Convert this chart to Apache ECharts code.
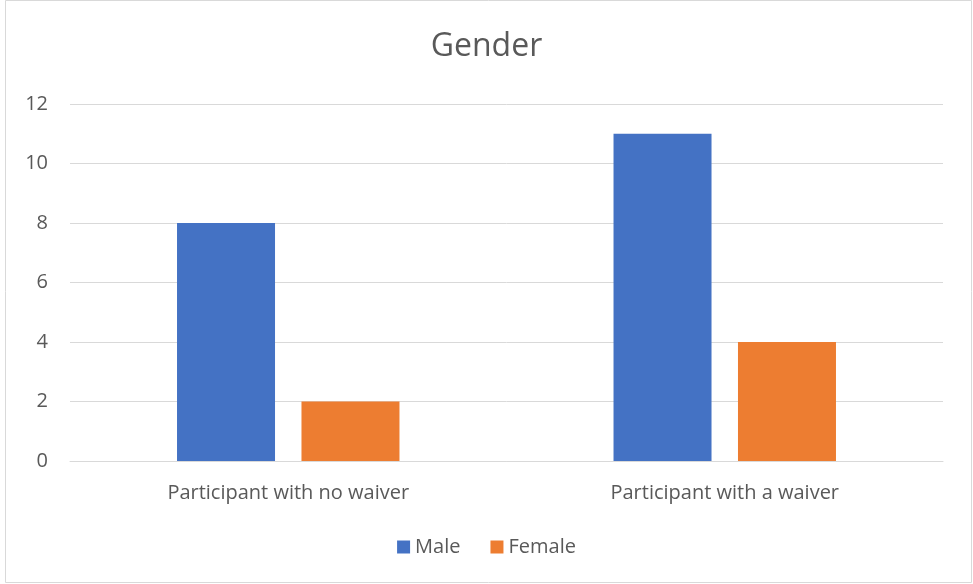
<!DOCTYPE html>
<html>
<head>
<meta charset="utf-8">
<script src="https://cdn.jsdelivr.net/npm/echarts@6/dist/echarts.min.js"></script>
<style>
  html, body { margin: 0; padding: 0; background: #fff; }
  #chart { width: 973px; height: 584px; }
</style>
</head>
<body>
<div id="chart"></div>
<script>
var categories = ['Participant with no waiver', 'Participant with a waiver'];
var maleValues = [8, 11];
var femaleValues = [2, 4];

var myChart = echarts.init(document.getElementById('chart'));
var font = 'Open Sans';

var option = {
    backgroundColor: '#fff',
    animation: false,
    title: {
        text: 'Gender',
        left: 'center',
        top: 26,
        textStyle: { fontFamily: font, fontSize: 32, fontWeight: 'normal', color: '#595959' }
    },
    legend: {
        bottom: 22,
        left: 'center',
        itemWidth: 13,
        itemHeight: 13,
        itemGap: 30,
        icon: 'rect',
        textStyle: { fontFamily: font, fontSize: 20, color: '#595959' },
        data: ['Male', 'Female']
    },
    grid: {
        left: 70,
        right: 30,
        top: 104,
        bottom: 123
    },
    xAxis: {
        type: 'category',
        data: categories,
        axisTick: { show: false },
        axisLine: { lineStyle: { color: '#d9d9d9' } },
        axisLabel: { fontFamily: font, fontSize: 20, color: '#595959', margin: 22 }
    },
    yAxis: {
        type: 'value',
        min: 0,
        max: 12,
        interval: 2,
        axisLabel: { fontFamily: font, fontSize: 20, color: '#595959', margin: 22 },
        splitLine: { lineStyle: { color: '#d9d9d9' } }
    },
    graphic: [{
        type: 'rect',
        shape: { x: 5.5, y: 0.5, width: 966, height: 582 },
        style: { fill: 'none', stroke: '#d9d9d9', lineWidth: 1 },
        silent: true
    }],
    series: [{
        name: 'Male',
        type: 'bar',
        data: maleValues,
        barWidth: 98,
        barGap: '27%',
        itemStyle: { color: '#4472c4' }
    }, {
        name: 'Female',
        type: 'bar',
        data: femaleValues,
        barWidth: 98,
        itemStyle: { color: '#ed7d31' }
    }]
};
myChart.setOption(option);
</script>
</body>
</html>
